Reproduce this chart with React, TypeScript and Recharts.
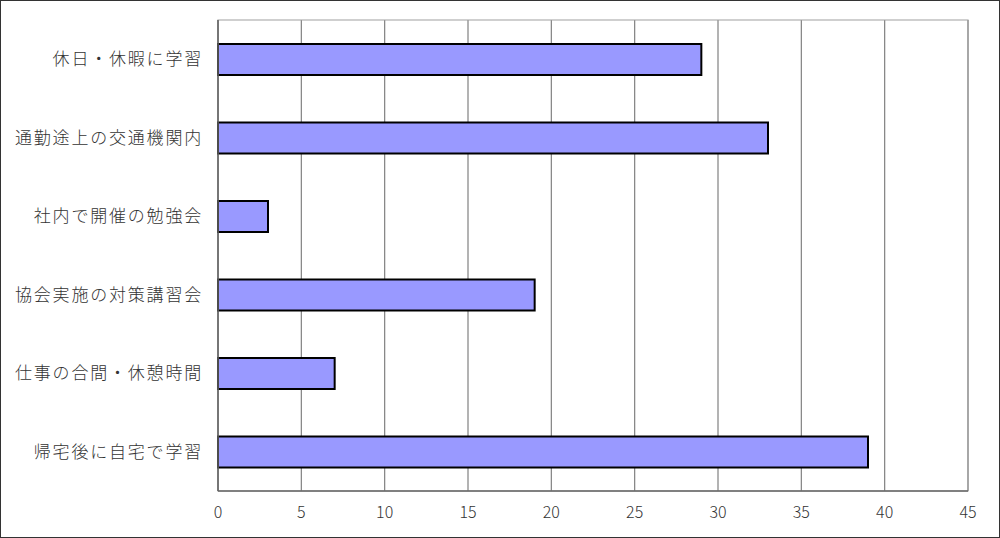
import { BarChart, Bar, XAxis, YAxis, CartesianGrid, ReferenceArea } from "recharts";

// 学習場所・時間帯ごとの回答数
const CATEGORIES = [
  "休日・休暇に学習",
  "通勤途上の交通機関内",
  "社内で開催の勉強会",
  "協会実施の対策講習会",
  "仕事の合間・休憩時間",
  "帰宅後に自宅で学習",
];
const COUNTS = [29, 33, 3, 19, 7, 39];
const X_TICKS = [0, 5, 10, 15, 20, 25, 30, 35, 40, 45];

const data = CATEGORIES.map((name, i) => ({ name, value: COUNTS[i] }));

const FONT = '"Noto Sans CJK JP", "Noto Sans", sans-serif';

export default function App() {
  return (
    <div
      style={{
        position: "absolute",
        left: 0,
        top: 0,
        width: 1000,
        height: 538,
        boxSizing: "border-box",
        border: "1px solid #333",
        background: "#fff",
        fontFamily: FONT,
      }}
    >
      <BarChart
        width={998}
        height={536}
        data={data}
        layout="vertical"
        margin={{ top: 19, right: 31, bottom: 0, left: 0 }}
        barSize={31}
      >
        <CartesianGrid horizontal={false} stroke="#808080" strokeWidth={1.2} />
        <ReferenceArea x1={0} x2={45} fill="none" stroke="#a0a0a0" strokeWidth={1.2} />
        <XAxis
          type="number"
          domain={[0, 45]}
          ticks={X_TICKS}
          interval={0}
          height={46}
          tickLine={false}
          tickMargin={10}
          axisLine={{ stroke: "#666", strokeWidth: 1.5 }}
          tick={{ fontSize: 16, fill: "#333", fontFamily: FONT, fontWeight: 300 }}
        />
        <YAxis
          type="category"
          dataKey="name"
          width={217}
          tickLine={false}
          tickMargin={9}
          axisLine={{ stroke: "#666", strokeWidth: 1.5 }}
          tick={{ fontSize: 17, fill: "#333", fontFamily: FONT, fontWeight: 300, letterSpacing: 1.8 }}
        />
        <Bar dataKey="value" fill="#9999ff" stroke="#000" strokeWidth={2} isAnimationActive={false} />
      </BarChart>
    </div>
  );
}
